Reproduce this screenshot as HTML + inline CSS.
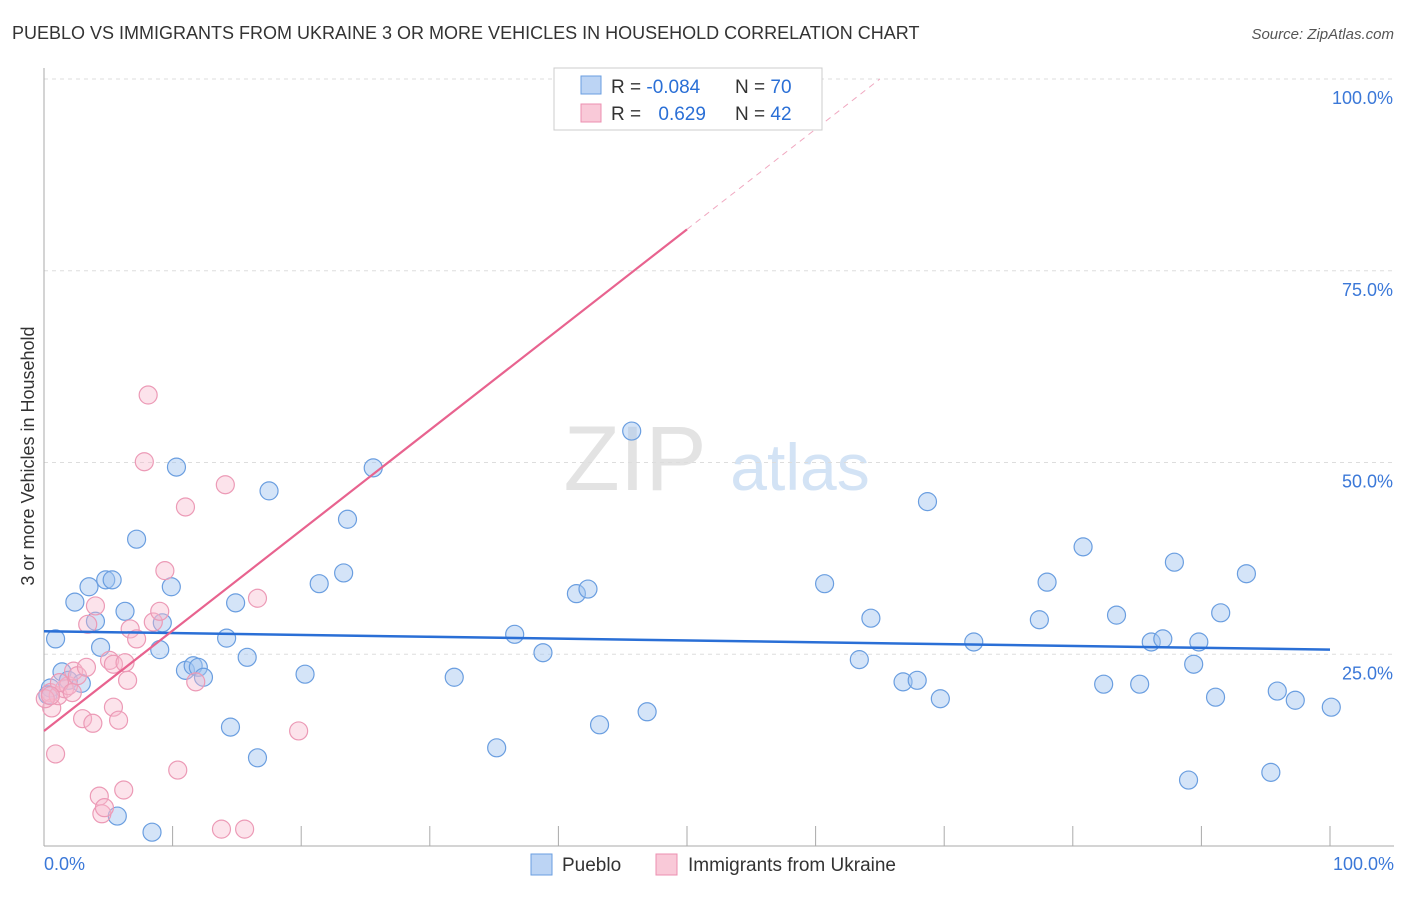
<!DOCTYPE html>
<html><head><meta charset="utf-8"><style>
body{margin:0;background:#fff;font-family:"Liberation Sans",sans-serif;}
svg text{font-family:"Liberation Sans",sans-serif;}
</style></head><body>
<svg id="c" width="1406" height="892" xmlns="http://www.w3.org/2000/svg">
<text x="12" y="39" font-size="18" fill="#333">PUEBLO VS IMMIGRANTS FROM UKRAINE 3 OR MORE VEHICLES IN HOUSEHOLD CORRELATION CHART</text>
<text x="1394" y="39" font-size="15" fill="#555" font-style="italic" text-anchor="end">Source: ZipAtlas.com</text>
<text transform="translate(34,456) rotate(-90)" font-size="18" fill="#333" text-anchor="middle">3 or more Vehicles in Household</text>
<text x="635" y="490" font-size="92" fill="#e3e3e3" font-family="Liberation Serif" text-anchor="middle">ZIP</text>
<text x="800" y="490" font-size="66" fill="#d3e3f5" text-anchor="middle">atlas</text>
<g id="grid"></g><g id="marks"></g>
<g>
<rect x="554" y="68" width="268" height="62" fill="#fff" stroke="#ccc"/>
<rect x="581" y="76" width="20" height="18" fill="#bcd4f4" stroke="#6a9ee0"/>
<rect x="581" y="104" width="20" height="18" fill="#f9c9d8" stroke="#ec8fb0"/>
<text x="611" y="93" font-size="19" fill="#333">R = <tspan fill="#2a6fd6">-0.084</tspan></text>
<text x="735" y="93" font-size="19" fill="#333">N = <tspan fill="#2a6fd6">70</tspan></text>
<text x="611" y="120" font-size="19" fill="#333">R = <tspan fill="#2a6fd6" dx="12">0.629</tspan></text>
<text x="735" y="120" font-size="19" fill="#333">N = <tspan fill="#2a6fd6">42</tspan></text>
</g>
<g>
<rect x="531" y="854" width="21" height="21" fill="#bcd4f4" stroke="#6a9ee0"/>
<text x="562" y="871" font-size="19" fill="#333">Pueblo</text>
<rect x="656" y="854" width="21" height="21" fill="#f9c9d8" stroke="#ec8fb0"/>
<text x="688" y="871" font-size="19" fill="#333">Immigrants from Ukraine</text>
</g>
</svg>
<script>
const yTicks=[25,50,75,100];
const yTickLabels=["25.0%","50.0%","75.0%","100.0%"];
const xTicks=[0,10,20,30,40,50,60,70,80,90,100];
const blueX=[0.9,1.4,1.9,2.4,2.9,3.5,4.0,4.4,4.8,5.3,6.3,7.2,8.4,9.0,9.9,9.2,10.3,11.0,11.6,12.0,12.4,14.2,14.5,14.9,15.8,16.6,17.5,20.3,21.4,23.3,23.6,25.6,31.9,35.2,36.6,38.8,41.4,42.3,43.2,45.7,46.9,5.7,60.7,63.4,64.3,66.8,67.9,69.7,68.7,72.3,77.4,78.0,80.8,82.4,83.4,85.2,86.1,87.0,87.9,89.4,89.8,89.0,91.1,91.5,93.5,95.4,95.9,97.3,100.1,0.5,0.3];
const blueY=[27.0,22.7,21.6,31.8,21.2,33.8,29.3,25.9,34.7,34.7,30.6,40.0,1.8,25.6,33.8,29.1,49.4,22.9,23.5,23.3,22.0,27.1,15.5,31.7,24.6,11.5,46.3,22.4,34.2,35.6,42.6,49.3,22.0,12.8,27.6,25.2,32.9,33.5,15.8,54.1,17.5,3.9,34.2,24.3,29.7,21.4,21.6,19.2,44.9,26.6,29.5,34.4,39.0,21.1,30.1,21.1,26.6,27.0,37.0,23.7,26.6,8.6,19.4,30.4,35.5,9.6,20.2,19.0,18.1,20.6,19.7];
const pinkX=[0.5,0.6,0.9,1.1,1.6,1.9,2.3,2.6,3.0,3.4,3.3,3.8,4.0,4.3,4.5,4.7,5.1,5.4,5.4,5.8,6.2,6.3,6.5,6.7,7.2,8.1,7.8,8.5,9.0,9.4,10.4,11.0,11.8,13.8,14.1,15.6,16.6,19.8,0.1,1.2,2.2,0.5];
const pinkY=[20.0,18.0,12.0,19.6,20.5,20.9,22.8,22.2,16.6,28.9,23.3,16.0,31.3,6.5,4.2,5.0,24.2,18.1,23.7,16.4,7.3,23.9,21.6,28.3,27.0,58.8,50.1,29.2,30.6,35.9,9.9,44.2,21.4,2.2,47.1,2.2,32.3,15.0,19.2,21.3,20.0,19.6];
const blueLine=[28.0,25.6];
const pinkLine=[15.0,80.4,100];
const pinkEnd=[50,65];
const X=v=>44+v*12.86, Y=v=>846-v*7.67;
const NS="http://www.w3.org/2000/svg";
function mk(p,t,a){const e=document.createElementNS(NS,t);for(const k in a)e.setAttribute(k,a[k]);p.appendChild(e);return e;}
const g=document.getElementById('grid'),m=document.getElementById('marks');
yTicks.forEach((t,i)=>{
 const l=mk(g,'line',{x1:44,x2:1394,y1:Y(t),y2:Y(t),stroke:'#ddd','stroke-dasharray':'4,4'});
 
 
 const tx=mk(g,'text',{x:1393,y:Y(t)+25,'font-size':18,fill:'#3b78d8','text-anchor':'end'});tx.textContent=yTickLabels[i];
 
 
});
const ax=mk(g,'line',{x1:44,x2:44,y1:68,y2:846,stroke:'#aaa'});


const bx=mk(g,'line',{x1:44,x2:1394,y1:846,y2:846,stroke:'#aaa'});


xTicks.forEach(t=>{if(t===0)return;const l=mk(g,'line',{x1:X(t),x2:X(t),y1:826,y2:846,stroke:'#aaa'});
 
 });
[[0,'0.0%','start',44],[100,'100.0%','end',1394]].forEach(d=>{const tx=mk(g,'text',{x:d[3],y:870,'font-size':18,fill:'#3b78d8','text-anchor':d[2]});tx.textContent=d[1];
 
 });
blueX.forEach((v,i)=>{const c=mk(m,'circle',{cx:X(v),cy:Y(blueY[i]),r:9,fill:'rgba(160,195,240,0.45)',stroke:'#6a9ee0','stroke-width':1.2});
 
 });
pinkX.forEach((v,i)=>{const c=mk(m,'circle',{cx:X(v),cy:Y(pinkY[i]),r:9,fill:'rgba(248,185,205,0.4)',stroke:'#ec9ab6','stroke-width':1.2});
 
 });
const bl=mk(m,'line',{x1:X(0),y1:Y(blueLine[0]),x2:X(100),y2:Y(blueLine[1]),stroke:'#2a6fd6','stroke-width':2.5});


const pl=mk(m,'line',{x1:X(0),y1:Y(pinkLine[0]),x2:X(pinkEnd[0]),y2:Y(pinkLine[1]),stroke:'#e8638f','stroke-width':2.2});


const pd=mk(m,'line',{x1:X(pinkEnd[0]),y1:Y(pinkLine[1]),x2:X(pinkEnd[1]),y2:Y(pinkLine[2]),stroke:'#f0a8c0','stroke-width':1,'stroke-dasharray':'6,5'});


</script>
</body></html>
